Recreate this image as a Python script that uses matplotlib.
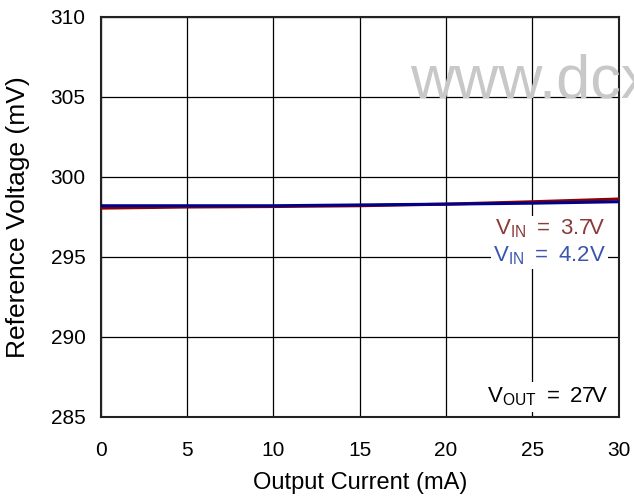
import matplotlib
matplotlib.use("Agg")
import matplotlib.pyplot as plt

plt.rcParams['font.family'] = ['Liberation Sans', 'DejaVu Sans']
plt.rcParams['mathtext.fontset'] = 'custom'
plt.rcParams['mathtext.rm'] = 'Liberation Sans'

current_ma = [0, 5, 10, 15, 20, 25, 30]
vref_vin37 = [298.05, 298.12, 298.15, 298.2, 298.3, 298.45, 298.62]
vref_vin42 = [298.2, 298.2, 298.2, 298.25, 298.3, 298.36, 298.45]
xticks = [0, 5, 10, 15, 20, 25, 30]
yticks = [285, 290, 295, 300, 305, 310]

fig = plt.figure(figsize=(6.34, 4.97), dpi=100)
ax = fig.add_axes([0.159, 0.161, 0.817, 0.805])

ax.plot(current_ma, vref_vin37, color='#8b0000', lw=2.2, zorder=3)
ax.plot(current_ma, vref_vin42, color='#00008b', lw=2.2, zorder=3)

ax.set_xlim(0, 30)
ax.set_ylim(285, 310)
ax.set_xticks(xticks)
ax.set_yticks(yticks)
ax.grid(True, color='black', lw=0.9)
ax.tick_params(length=0, labelsize=15)
ax.tick_params(axis='x', pad=17)
ax.tick_params(axis='y', pad=11)
for s in ax.spines.values():
    s.set_linewidth(1.5)
    s.set_color('#222222')

ax.set_xlabel('Output Current (mA)', fontsize=17)
ax.set_ylabel('Reference Voltage (mV)', fontsize=19)
ax.xaxis.label.set_va('center')
ax.yaxis.label.set_va('center')
ax.xaxis.set_label_coords(0.5, (416 - 482) / 399)
ax.yaxis.set_label_coords((18 - 101) / 518, 0.5)

bb = dict(facecolor='white', edgecolor='none', pad=1.5)
ax.text(29.25, 296.75, r'V$_{\mathregular{IN}}$ $=$ 3.7V', color='#8b3a3a', fontsize=16,
        ha='right', va='center', zorder=4, bbox=bb)
ax.text(29.25, 295.1, r'V$_{\mathregular{IN}}$ $=$ 4.2V', color='#3a55b0', fontsize=16,
        ha='right', va='center', zorder=4, bbox=bb)
ax.text(29.4, 286.25, r'V$_{\mathregular{OUT}}$ $=$ 27V', color='black', fontsize=16,
        ha='right', va='center', zorder=4, bbox=dict(facecolor='white', edgecolor='none', pad=2.5))

fig.text(410 / 634, 1 - 97 / 497, 'www.dcx', fontsize=44, color='#c8c8c8',
         ha='left', va='baseline', zorder=10)

fig.savefig('out.png', dpi=100)
